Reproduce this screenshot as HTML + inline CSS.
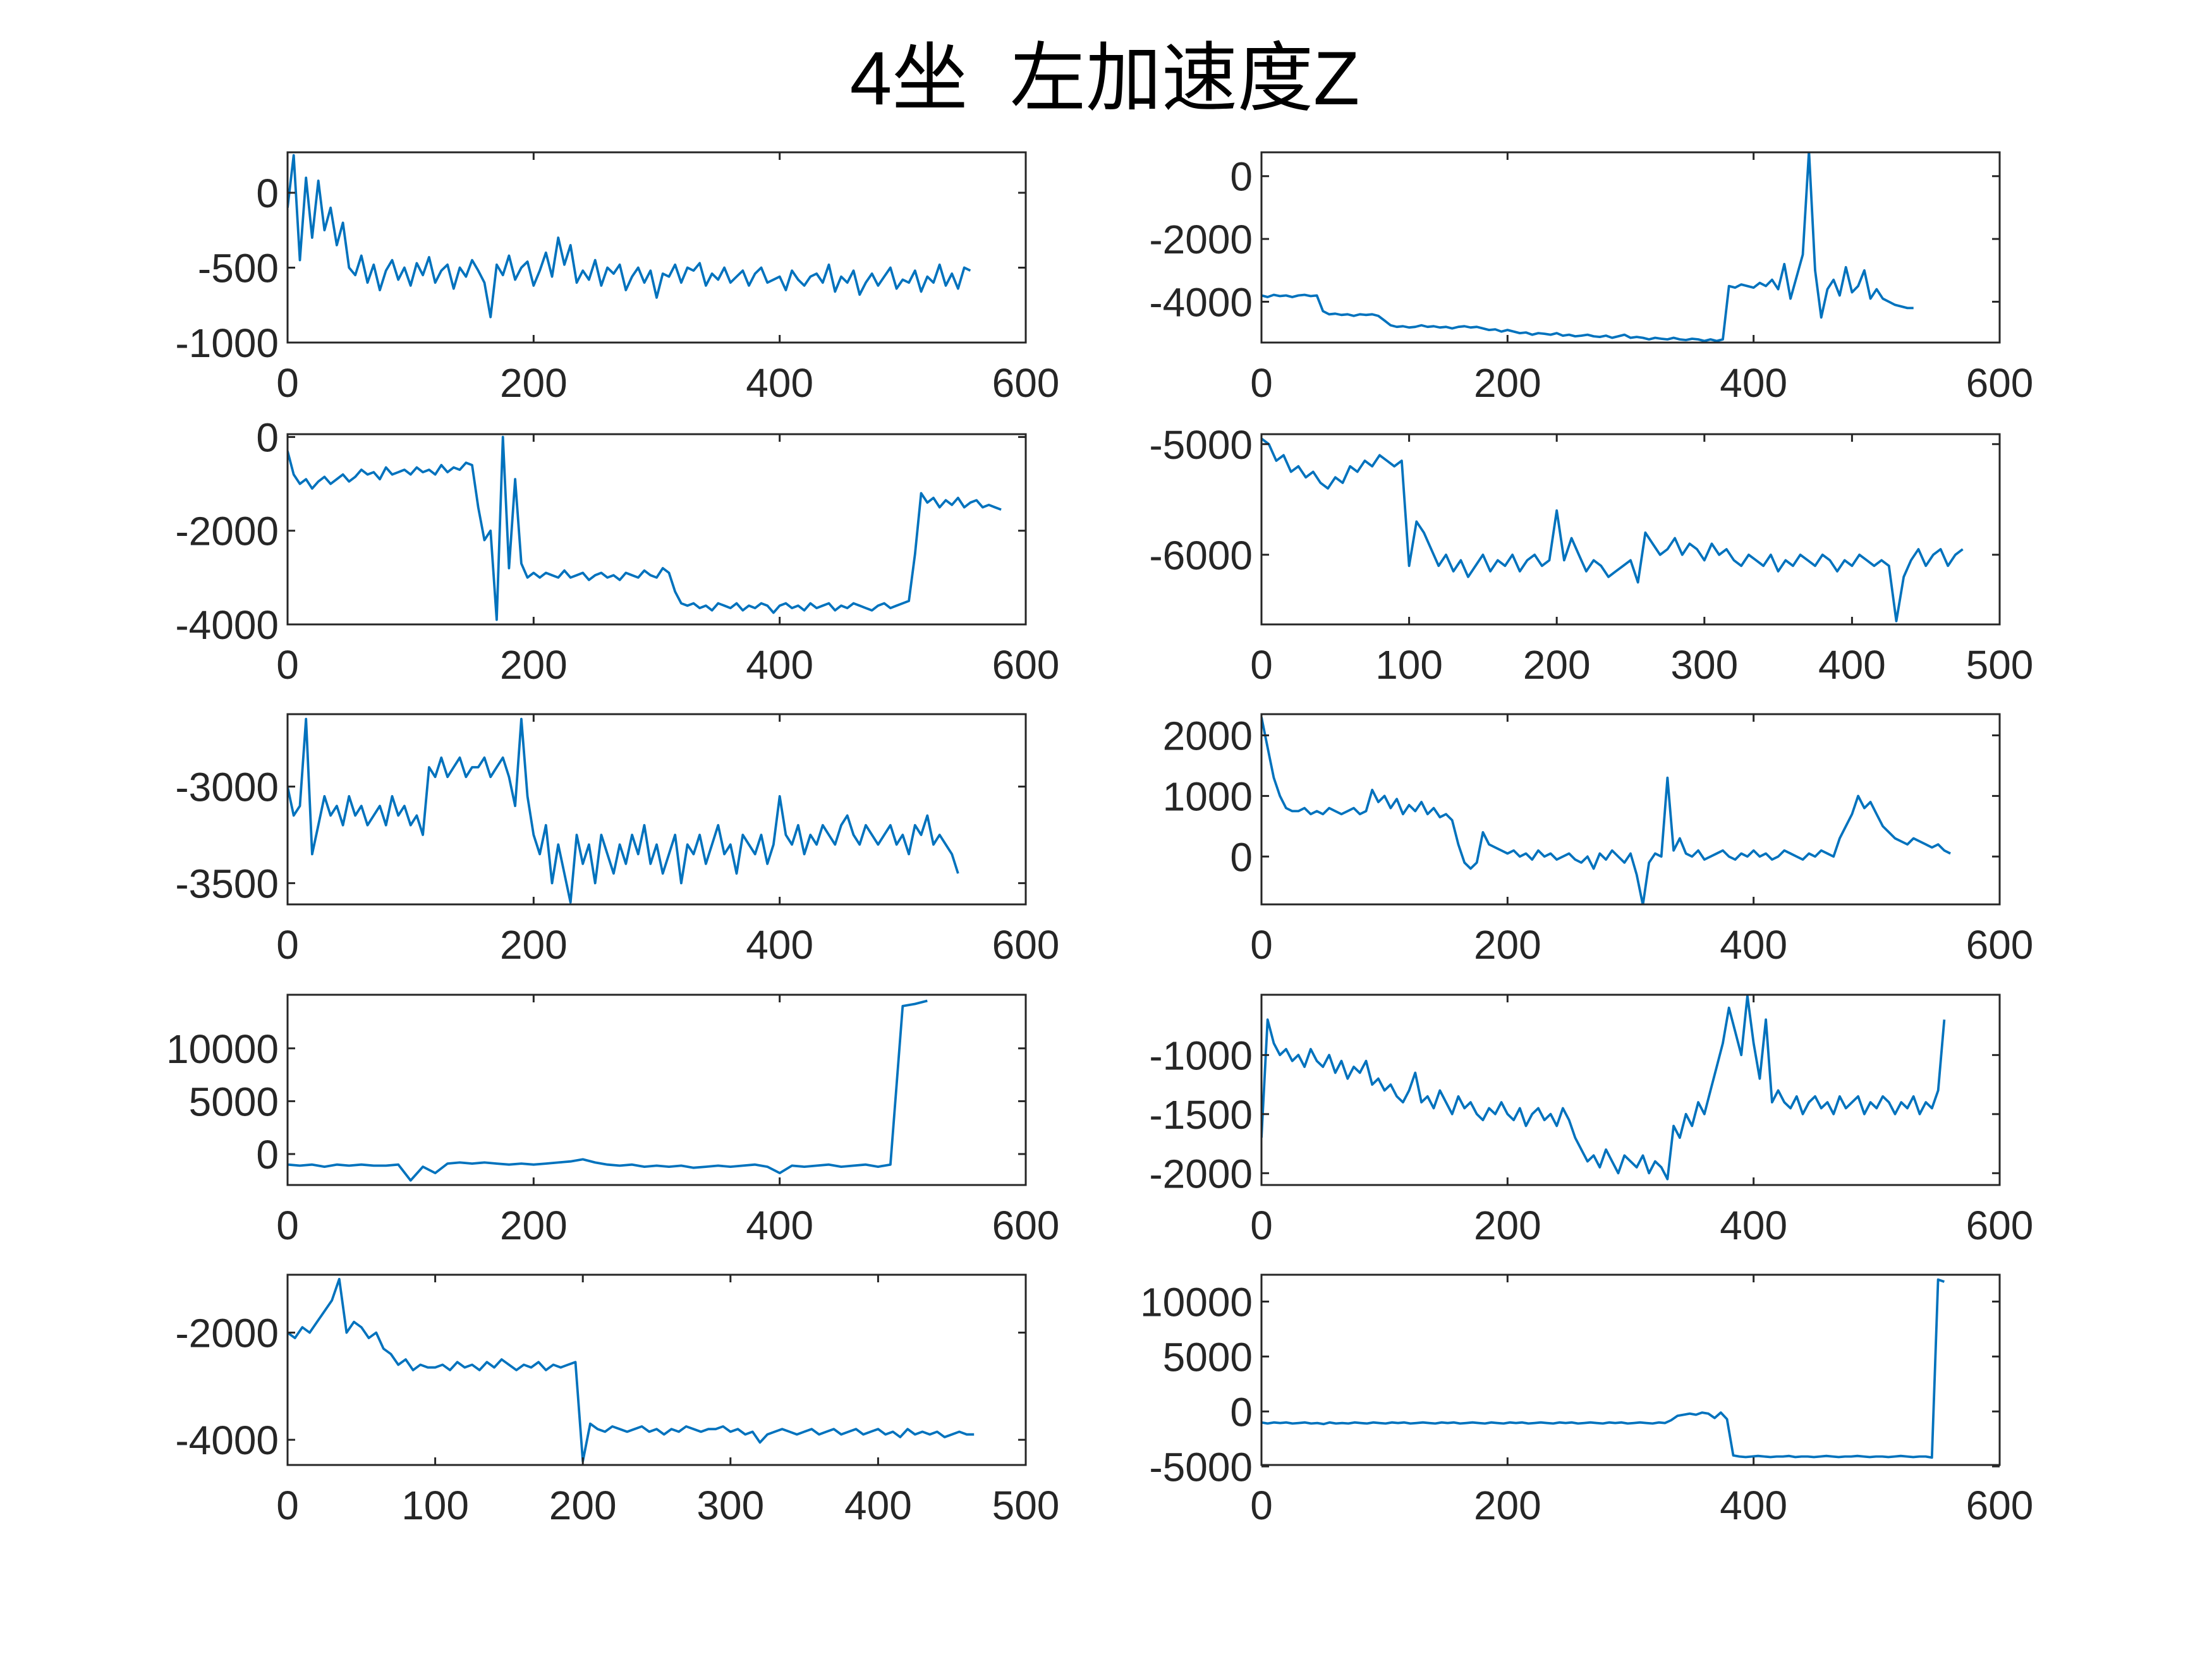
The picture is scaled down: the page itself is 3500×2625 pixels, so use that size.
<!DOCTYPE html>
<html><head><meta charset="utf-8">
<style>
html,body{margin:0;padding:0;background:#fff;}
svg{display:block;}
text{font-family:"Liberation Sans","Noto Sans CJK SC",sans-serif;fill:#262626;}
</style></head>
<body>
<svg id="fig" width="3500" height="2625" viewBox="0 0 3500 2625" xmlns="http://www.w3.org/2000/svg">
<rect x="0" y="0" width="3500" height="2625" fill="#fff"/>
<text x="1748" y="165" text-anchor="middle" font-size="120" style="fill:#000;white-space:pre" xml:space="preserve">4坐  左加速度Z</text>
</svg>
<script>
// ---- data (per panel) ----
const p1Y=[-100,250,-450,100,-300,80,-250,-100,-350,-200,-500,-550,-420,-600,-480,-650,-520,-450,-580,-500,-620,-470,-550,-430,-600,-520,-480,-640,-500,-560,-450,-520,-600,-830,-480,-550,-420,-580,-500,-460,-620,-520,-400,-560,-300,-480,-350,-600,-520,-580,-450,-620,-500,-540,-480,-650,-560,-500,-600,-520,-700,-540,-560,-480,-600,-500,-520,-470,-620,-540,-580,-500,-600,-560,-520,-620,-540,-500,-600,-580,-560,-650,-520,-580,-620,-560,-540,-600,-480,-660,-560,-600,-520,-680,-600,-540,-620,-560,-500,-640,-580,-600,-520,-660,-560,-600,-480,-620,-540,-640,-500,-520];
const p2Y=[-3800,-3850,-3780,-3820,-3800,-3850,-3800,-3780,-3820,-3800,-4300,-4400,-4380,-4420,-4400,-4450,-4400,-4420,-4400,-4450,-4600,-4750,-4800,-4780,-4820,-4800,-4750,-4800,-4780,-4820,-4800,-4850,-4800,-4780,-4820,-4800,-4850,-4900,-4880,-4950,-4900,-4950,-5000,-4980,-5050,-5000,-5020,-5050,-5000,-5080,-5050,-5100,-5080,-5050,-5100,-5120,-5080,-5150,-5100,-5050,-5150,-5120,-5150,-5200,-5150,-5180,-5200,-5150,-5200,-5220,-5180,-5200,-5250,-5200,-5250,-5200,-3500,-3550,-3450,-3500,-3550,-3400,-3500,-3300,-3600,-2800,-3900,-3200,-2500,800,-3000,-4500,-3600,-3300,-3800,-2900,-3700,-3500,-3000,-3900,-3600,-3900,-4000,-4100,-4150,-4200,-4200];
const p3Y=[-300,-800,-1000,-900,-1100,-950,-850,-1000,-900,-800,-950,-850,-700,-800,-750,-900,-650,-800,-750,-700,-800,-650,-750,-700,-800,-600,-750,-650,-700,-550,-600,-1500,-2200,-2000,-3900,0,-2800,-900,-2700,-3000,-2900,-3000,-2900,-2950,-3000,-2850,-3000,-2950,-2900,-3050,-2950,-2900,-3000,-2950,-3050,-2900,-2950,-3000,-2850,-2950,-3000,-2800,-2900,-3300,-3550,-3600,-3550,-3650,-3600,-3700,-3550,-3600,-3650,-3550,-3700,-3600,-3650,-3550,-3600,-3750,-3600,-3550,-3650,-3600,-3700,-3550,-3650,-3600,-3550,-3700,-3600,-3650,-3550,-3600,-3650,-3700,-3600,-3550,-3650,-3600,-3550,-3500,-2500,-1200,-1400,-1300,-1500,-1350,-1450,-1300,-1500,-1400,-1350,-1500,-1450,-1500,-1550];
const p4Y=[-4950,-5000,-5150,-5100,-5250,-5200,-5300,-5250,-5350,-5400,-5300,-5350,-5200,-5250,-5150,-5200,-5100,-5150,-5200,-5150,-6100,-5700,-5800,-5950,-6100,-6000,-6150,-6050,-6200,-6100,-6000,-6150,-6050,-6100,-6000,-6150,-6050,-6000,-6100,-6050,-5600,-6050,-5850,-6000,-6150,-6050,-6100,-6200,-6150,-6100,-6050,-6250,-5800,-5900,-6000,-5950,-5850,-6000,-5900,-5950,-6050,-5900,-6000,-5950,-6050,-6100,-6000,-6050,-6100,-6000,-6150,-6050,-6100,-6000,-6050,-6100,-6000,-6050,-6150,-6050,-6100,-6000,-6050,-6100,-6050,-6100,-6600,-6200,-6050,-5950,-6100,-6000,-5950,-6100,-6000,-5950];
const p5Y=[-3000,-3150,-3100,-2650,-3350,-3200,-3050,-3150,-3100,-3200,-3050,-3150,-3100,-3200,-3150,-3100,-3200,-3050,-3150,-3100,-3200,-3150,-3250,-2900,-2950,-2850,-2950,-2900,-2850,-2950,-2900,-2900,-2850,-2950,-2900,-2850,-2950,-3100,-2650,-3050,-3250,-3350,-3200,-3500,-3300,-3450,-3600,-3250,-3400,-3300,-3500,-3250,-3350,-3450,-3300,-3400,-3250,-3350,-3200,-3400,-3300,-3450,-3350,-3250,-3500,-3300,-3350,-3250,-3400,-3300,-3200,-3350,-3300,-3450,-3250,-3300,-3350,-3250,-3400,-3300,-3050,-3250,-3300,-3200,-3350,-3250,-3300,-3200,-3250,-3300,-3200,-3150,-3250,-3300,-3200,-3250,-3300,-3250,-3200,-3300,-3250,-3350,-3200,-3250,-3150,-3300,-3250,-3300,-3350,-3450];
const p6Y=[2300,1800,1300,1000,800,750,750,800,700,750,700,800,750,700,750,800,700,750,1100,900,1000,800,950,700,850,750,900,700,800,650,700,600,200,-100,-200,-100,400,200,150,100,50,100,0,50,-50,100,0,50,-50,0,50,-50,-100,0,-200,50,-50,100,0,-100,50,-300,-800,-100,50,0,1300,100,300,50,0,100,-50,0,50,100,0,-50,50,0,100,0,50,-50,0,100,50,0,-50,50,0,100,50,0,300,500,700,1000,800,900,700,500,400,300,250,200,300,250,200,150,200,100,50];
const p7Y=[-1000,-1100,-1000,-1200,-1000,-1100,-1000,-1100,-1100,-1000,-2500,-1200,-1800,-900,-800,-900,-800,-900,-1000,-900,-1000,-900,-800,-700,-500,-800,-1000,-1100,-1000,-1200,-1100,-1200,-1100,-1300,-1200,-1100,-1200,-1100,-1000,-1200,-1800,-1100,-1200,-1100,-1000,-1200,-1100,-1000,-1200,-1000,14000,14200,14500];
const p8Y=[-1700,-700,-900,-1000,-950,-1050,-1000,-1100,-950,-1050,-1100,-1000,-1150,-1050,-1200,-1100,-1150,-1050,-1250,-1200,-1300,-1250,-1350,-1400,-1300,-1150,-1400,-1350,-1450,-1300,-1400,-1500,-1350,-1450,-1400,-1500,-1550,-1450,-1500,-1400,-1500,-1550,-1450,-1600,-1500,-1450,-1550,-1500,-1600,-1450,-1550,-1700,-1800,-1900,-1850,-1950,-1800,-1900,-2000,-1850,-1900,-1950,-1850,-2000,-1900,-1950,-2050,-1600,-1700,-1500,-1600,-1400,-1500,-1300,-1100,-900,-600,-800,-1000,-500,-900,-1200,-700,-1400,-1300,-1400,-1450,-1350,-1500,-1400,-1350,-1450,-1400,-1500,-1350,-1450,-1400,-1350,-1500,-1400,-1450,-1350,-1400,-1500,-1400,-1450,-1350,-1500,-1400,-1450,-1300,-700];
const p9Y=[-2000,-2100,-1900,-2000,-1800,-1600,-1400,-1000,-2000,-1800,-1900,-2100,-2000,-2300,-2400,-2600,-2500,-2700,-2600,-2650,-2650,-2600,-2700,-2550,-2650,-2600,-2700,-2550,-2650,-2500,-2600,-2700,-2600,-2650,-2550,-2700,-2600,-2650,-2600,-2550,-4400,-3700,-3800,-3850,-3750,-3800,-3850,-3800,-3750,-3850,-3800,-3900,-3800,-3850,-3750,-3800,-3850,-3800,-3800,-3750,-3850,-3800,-3900,-3850,-4050,-3900,-3850,-3800,-3850,-3900,-3850,-3800,-3900,-3850,-3800,-3900,-3850,-3800,-3900,-3850,-3800,-3900,-3850,-3950,-3800,-3900,-3850,-3900,-3850,-3950,-3900,-3850,-3900,-3900];
const p10Y=[-1000,-1100,-1000,-1050,-1000,-1100,-1050,-1000,-1100,-1050,-1150,-1000,-1100,-1050,-1100,-1000,-1050,-1100,-1000,-1050,-1100,-1000,-1050,-1000,-1100,-1050,-1000,-1050,-1100,-1000,-1050,-1000,-1100,-1050,-1000,-1050,-1100,-1000,-1050,-1100,-1000,-1050,-1000,-1100,-1050,-1000,-1050,-1100,-1000,-1050,-1000,-1100,-1050,-1000,-1050,-1100,-1000,-1050,-1000,-1100,-1050,-1000,-1050,-1100,-1000,-1050,-800,-400,-300,-200,-300,-100,-200,-600,-100,-700,-4000,-4100,-4150,-4100,-4050,-4100,-4150,-4100,-4100,-4050,-4150,-4100,-4100,-4150,-4100,-4050,-4100,-4150,-4100,-4100,-4050,-4100,-4150,-4100,-4100,-4150,-4100,-4050,-4100,-4150,-4100,-4100,-4200,12000,11800];
const xEnds=[555,530,580,475,545,560,520,555,465,555];
const xLimits=[600,600,600,500,600,600,600,600,500,600];
const yLimits=[[-1000,270],[-5300,760],[-4000,60],[-6630,-4910],[-3610,-2625],[-790,2350],[-2930,15070],[-2100,-490],[-4470,-920],[-4870,12440]];
const yTicks=[[-1000,-500,0],[-4000,-2000,0],[-4000,-2000,0],[-6000,-5000],[-3500,-3000],[0,1000,2000],[0,5000,10000],[-2000,-1500,-1000],[-4000,-2000],[-5000,0,5000,10000]];
const xTickStep=[200,200,200,100,200,200,200,200,100,200];
const series=[p1Y,p2Y,p3Y,p4Y,p5Y,p6Y,p7Y,p8Y,p9Y,p10Y];

const NS='http://www.w3.org/2000/svg';
const svg=document.getElementById('fig');
const colL=[455,1623], colR=[1996,3164];
const rowTops=[241,687,1130,1574,2017], H=301;
function mk(tag,attrs){const e=document.createElementNS(NS,tag);for(const k in attrs)e.setAttribute(k,attrs[k]);return e;}

series.forEach((ys,i)=>{
  const col=i%2===0?colL:colR, row=Math.floor(i/2);
  const X0=col[0],X1=col[1],Y0=rowTops[row],Y1=rowTops[row]+H;
  const [ymin,ymax]=yLimits[i];
  const sx=v=>X0+(v/xLimits[i])*(X1-X0);
  const sy=v=>Y1-(v-ymin)/(ymax-ymin)*(Y1-Y0);
  const g=mk('g',{});
  
  
  svg.appendChild(g);
  const cid='clip'+i;
  const cp=mk('clipPath',{id:cid});cp.appendChild(mk('rect',{x:X0,y:Y0,width:X1-X0,height:Y1-Y0}));g.appendChild(cp);
  const step=xEnds[i]/(ys.length-1);
  const pts=ys.map((v,k)=>sx(k*step).toFixed(1)+','+sy(v).toFixed(1)).join(' ');
  const line=mk('polyline',{points:pts,fill:'none',stroke:'#0072BD','stroke-width':3.8,'stroke-linejoin':'round','clip-path':'url(#'+cid+')'});
  
  
  g.appendChild(line);
  const box=mk('rect',{x:X0,y:Y0,width:X1-X0,height:Y1-Y0,fill:'none',stroke:'#262626','stroke-width':3});
  
  
  g.appendChild(box);
  for(let t=0;t<=xLimits[i];t+=xTickStep[i]){
    const x=sx(t);
    g.appendChild(mk('line',{x1:x,x2:x,y1:Y1,y2:Y1-12,stroke:'#262626','stroke-width':3}));
    g.appendChild(mk('line',{x1:x,x2:x,y1:Y0,y2:Y0+12,stroke:'#262626','stroke-width':3}));
    const tx=mk('text',{x:x,y:Y1+86,'text-anchor':'middle','font-size':64});
    
    
    tx.textContent=t;g.appendChild(tx);
  }
  yTicks[i].forEach(t=>{
    const y=sy(t);
    g.appendChild(mk('line',{x1:X0,x2:X0+12,y1:y,y2:y,stroke:'#262626','stroke-width':3}));
    g.appendChild(mk('line',{x1:X1,x2:X1-12,y1:y,y2:y,stroke:'#262626','stroke-width':3}));
    const ty=mk('text',{x:X0-14,y:y+23,'text-anchor':'end','font-size':64});
    
    
    ty.textContent=t;g.appendChild(ty);
  });
});
</script>
</body></html>
